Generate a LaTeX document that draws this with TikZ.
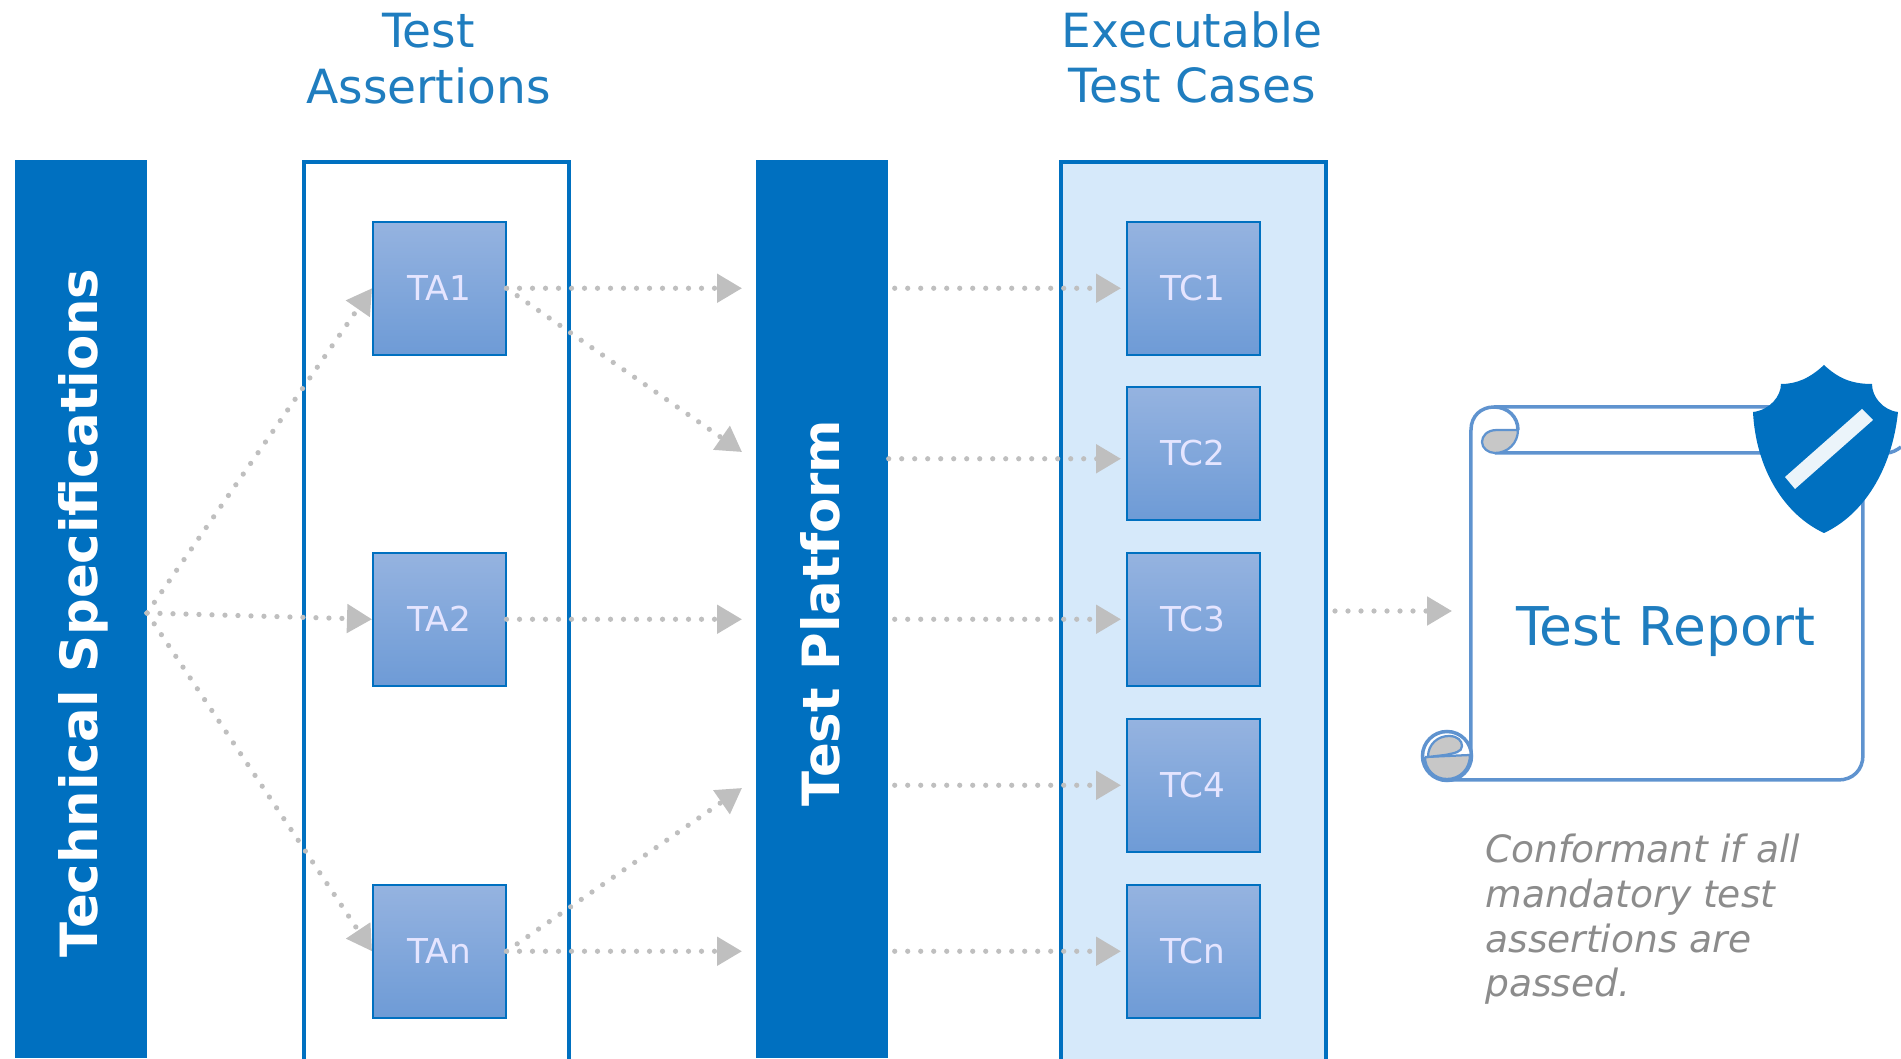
\documentclass[tikz,border=0pt]{standalone}
\usepackage{fontspec}
\setmainfont{DejaVu Sans}
\usetikzlibrary{calc}
\usetikzlibrary{arrows.meta}
\definecolor{barblue}{HTML}{0070C0}
\definecolor{headblue}{HTML}{1F7DBF}
\definecolor{scrollblue}{HTML}{5F93CF}
\definecolor{casefill}{HTML}{D6E9FA}
\definecolor{arrowgrey}{HTML}{BFBFBF}
\definecolor{boxtop}{HTML}{95B3E0}
\definecolor{boxbottom}{HTML}{6E9BD6}
\tikzset{
    % Solid full height bar with rotated text
    side bar/.style={
        fill=barblue, text=white, anchor=north west, inner sep=0,
        minimum width=26.4mm, minimum height=179.6mm,
        font=\fontsize{29.2}{34}\bfseries\selectfont},
%
    % Tall frame round a column of small boxes
    column frame/.style={
        draw=barblue, line width=0.7mm, anchor=north west,
        minimum width=53mm, minimum height=180mm},
%
    % The small shaded boxes
    small box/.style={
        draw=barblue, line width=0.3mm, anchor=north west,
        top color=boxtop, bottom color=boxbottom,
        minimum width=26.6mm, minimum height=26.6mm, text=white!90!blue,
        font=\fontsize{19.5}{23}\selectfont},
%
    % Column titles above the frames
    column title/.style={
        text=headblue, align=center, anchor=north, inner sep=0,
        font=\fontsize{26.8}{31.7}\selectfont},
%
    % Dotted grey flow between the columns
    flow/.style={
        draw=arrowgrey, line width=1.05mm, line cap=round,
        dash pattern=on 0mm off 2.6mm,
        -{Triangle[length=5mm, width=5.6mm, fill=arrowgrey]}},
%
    % Outline of the scroll
    scroll line/.style={draw=scrollblue, line width=0.7mm},
    scroll curl/.style={draw=scrollblue, line width=0.45mm, fill=black!22}}

% Text #1 turned upwards
\newcommand{\bartext}[1]{%
\rotatebox{90}{\raisebox{-0.25mm}[0.8em][0.2em]{#1}\hspace*{1.4mm}}}

\begin{document}
\begin{tikzpicture}
\useasboundingbox (0,0) rectangle (380.2mm,-211.6mm);

% Bars
\node [side bar] (specs) at (3mm,-32mm) {\bartext{Technical Specifications}};
\node [side bar] (platform) at (151.2mm,-32mm) {\bartext{Test Platform}};

% Test assertions
\node [column frame] (assertions) at (60.4mm,-32mm) {};
\node [column title] (assertions title) at (85.7mm,-2.6mm) {Test\\Assertions};
\node [small box] (ta1) at (74.4mm,-44.2mm) {TA1};
\node [small box] (ta2) at (74.4mm,-110.4mm) {TA2};
\node [small box] (tan) at (74.4mm,-176.8mm) {TAn};

% Executable test cases
\node [column frame, fill=casefill] (cases) at (211.8mm,-32mm) {};
\node [column title] (cases title) at (238.4mm,-2.2mm) {Executable\\Test Cases};
\node [small box] (tc1) at (225.2mm,-44.2mm) {TC1};
\node [small box] (tc2) at (225.2mm,-77.2mm) {TC2};
\node [small box] (tc3) at (225.2mm,-110.4mm) {TC3};
\node [small box] (tc4) at (225.2mm,-143.6mm) {TC4};
\node [small box] (tcn) at (225.2mm,-176.8mm) {TCn};

% Scroll, in the pixels of the picture
\begin{scope}[x=0.2mm, y=-0.2mm]
\path [scroll line]
    (1447,780) -- (1838,780) .. controls (1853,780) and (1863,770) .. (1863,755)
    -- (1863,500);
\path [scroll line]
    (1471,760) -- (1471,430) .. controls (1471,416) and (1481,407) .. (1494,407)
    -- (1850,407);
\path [scroll line]
    (1495,453) -- (1886,453) .. controls (1892,453) and (1897,450) .. (1901,447);
\path [scroll curl]
    (1518,430) -- (1497,430) .. controls (1487,430) and (1482,436) .. (1482,442)
    .. controls (1482,448) and (1488,453) .. (1495,453)
    .. controls (1508,453) and (1518,443) .. (1518,430);
\path [scroll line]
    (1494,407) .. controls (1508,407) and (1518,417) .. (1518,430);
\node [draw=scrollblue, line width=0.7mm, fill=white, circle, inner sep=0,
    minimum size=9.8mm] (curl) at (1447,756) {};
\path [scroll curl]
    (1425,757) -- (1470,755) .. controls (1470,769) and (1460,779) .. (1447,779)
    .. controls (1434,779) and (1425,769) .. (1425,757);
\path [scroll curl]
    (1428,757) .. controls (1428,744) and (1438,736) .. (1449,736)
    .. controls (1458,736) and (1462,741) .. (1462,746)
    .. controls (1462,752) and (1455,753) .. (1445,755) -- cycle;

% Shield on the corner
\path [fill=barblue]
    (1824,365) .. controls (1810,378) and (1797,384) .. (1781,384)
    .. controls (1781,396) and (1770,410) .. (1753,412)
    .. controls (1756,470) and (1785,515) .. (1824,533)
    .. controls (1863,515) and (1892,470) .. (1898,412)
    .. controls (1882,410) and (1872,396) .. (1872,384)
    .. controls (1851,384) and (1838,378) .. (1824,365) -- cycle;
\path [fill=white!92!barblue]
    (1862,409) -- (1873,420) -- (1795,489) -- (1785,477) -- cycle;
\end{scope}

% Report texts
\node [text=headblue, anchor=base, inner sep=0, font=\fontsize{30.4}{36}\selectfont]
    (report) at (333.2mm,-129mm) {Test Report};
\node [text=black!45, anchor=north west, inner sep=0, align=left,
    font=\fontsize{21.4}{25.5}\itshape\selectfont]
    (verdict) at (297mm,-166.7mm)
    {Conformant if all\\mandatory test\\assertions are\\passed.};

% Ends of the flows that meet no box
\coordinate (fan) at (29.4mm,-122.6mm);
\coordinate (platform upper) at (148.4mm,-90.4mm);
\coordinate (platform lower) at (148.4mm,-157.6mm);
\coordinate (cases out) at (267mm,-122.2mm);
\coordinate (report in) at (290.4mm,-122.2mm);

% Flows
\draw [flow] (fan) -- (ta1.west);
\draw [flow] (fan) -- (ta2.west);
\draw [flow] (fan) -- (tan.west);

\draw [flow, shorten >=2.8mm] (ta1.east) -- (platform.west |- ta1);
\draw [flow] (ta1.east) -- (platform upper);
\draw [flow, shorten >=2.8mm] (ta2.east) -- (platform.west |- ta2);
\draw [flow] (tan.east) -- (platform lower);
\draw [flow, shorten >=2.8mm] (tan.east) -- (platform.west |- tan);

\draw [flow, shorten <=1.2mm, shorten >=1mm] (platform.east |- tc1) -- (tc1.west);
\draw [flow, shorten >=1mm] ($(platform.east |- tc2)+(0,-1.1mm)$)
    -- ($(tc2.west)+(0,-1.1mm)$);
\draw [flow, shorten <=1.2mm, shorten >=1mm] (platform.east |- tc3) -- (tc3.west);
\draw [flow, shorten <=1.2mm, shorten >=1mm] (platform.east |- tc4) -- (tc4.west);
\draw [flow, shorten <=1.2mm, shorten >=1mm] (platform.east |- tcn) -- (tcn.west);

\draw [flow] (cases out) -- (report in);

\end{tikzpicture}
\end{document}
